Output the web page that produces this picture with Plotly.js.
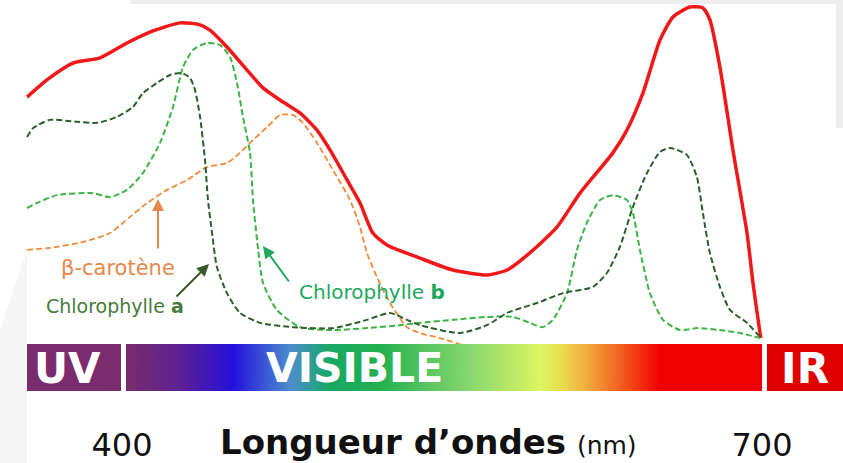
<!DOCTYPE html>
<html>
<head>
<meta charset="utf-8">
<script src="https://cdn.plot.ly/plotly-3.0.1.min.js"></script>
<style>html,body{margin:0;padding:0;background:#fff;}#chart{width:843px;height:463px;}</style>
</head>
<body>
<div id="chart"></div>
<script>
// ---- Data (wavelength in nm, relative absorbance) ----
const seriesNames = ['Spectre d\u2019action', 'Chlorophylle a', 'Chlorophylle b', '\u03b2-carot\u00e8ne'];

const nmAction = [355.5,364.8,377,389.7,402.3,413.1,427.2,436.6,441.2,449.2,458.6,466.1,475.5,483.4,491.4,497.5,505.5,511.6,517.6,524.2,539.7,555.1,571.1,580.5,591.2,603.9,614.7,630.1,636.7,644.2,652.2,658.3,666.2,672.3,675.6,680.3,686.4,693,695.8,699.1,699.5];
const absAction = [0.736,0.788,0.839,0.855,0.9,0.933,0.961,0.955,0.939,0.888,0.818,0.764,0.721,0.688,0.636,0.576,0.485,0.415,0.324,0.288,0.248,0.212,0.197,0.212,0.264,0.342,0.445,0.567,0.636,0.748,0.909,0.979,1.009,1.006,0.97,0.827,0.576,0.324,0.173,0.021,0.006];

const nmChlA = [355.5,358.3,366.2,378.9,388.3,397.6,405.1,409.8,416.4,422.5,428.1,431.9,434.2,436.6,438.9,440.3,442.2,444.5,449.2,455.3,464.7,480.1,498.9,514.8,525.6,533.6,539.7,558.4,571.1,580.5,594.5,606.7,620.8,627.3,633.4,639.5,646.1,652.2,656.9,664.8,669.5,672.3,675.6,680.3,685,693,699.1];
const absChlA = [0.615,0.642,0.667,0.661,0.658,0.676,0.706,0.748,0.779,0.803,0.809,0.794,0.758,0.676,0.545,0.424,0.324,0.221,0.142,0.082,0.052,0.039,0.036,0.061,0.082,0.061,0.045,0.021,0.045,0.082,0.112,0.142,0.161,0.203,0.282,0.403,0.506,0.570,0.582,0.561,0.494,0.385,0.264,0.161,0.091,0.052,0.009];

const nmChlB = [355.5,360.1,369.5,386.4,394.4,402.3,409.8,417.8,423.9,428.6,433.3,439.8,445.9,450.6,453.9,456.7,460,461.4,463.3,466.1,472.6,483.4,498.9,514.8,530.3,539.7,555.1,571.1,583.3,591.2,597.3,602,608.6,613.3,617.9,624.1,630.1,636.7,639.5,642.8,647.5,653.6,661.6,669.5,680.3,689.7,699.1];
const absChlB = [0.4,0.415,0.439,0.445,0.433,0.455,0.506,0.597,0.706,0.827,0.879,0.9,0.894,0.858,0.779,0.676,0.567,0.424,0.303,0.173,0.091,0.039,0.03,0.036,0.045,0.052,0.061,0.07,0.07,0.052,0.039,0.061,0.142,0.273,0.355,0.424,0.439,0.424,0.385,0.273,0.142,0.061,0.03,0.036,0.03,0.021,0.006];

const nmCarot = [355.5,366.2,381.7,394.4,403.7,411.7,421.1,430.5,439.8,449.2,455.3,461.4,468,474.1,480.1,484.8,491.4,498.9,506.9,511.6,514.8,519.5,525.6,533.6,539.7,549,559.4];
const absCarot = [0.273,0.279,0.297,0.324,0.373,0.415,0.455,0.485,0.524,0.536,0.567,0.606,0.645,0.682,0.682,0.658,0.597,0.515,0.424,0.342,0.264,0.191,0.112,0.039,0.021,0.006,-0.015];

const tickValues = [400, 700];
const tickLabels = ['400', '700'];
const bandLabels = ['UV', 'VISIBLE', 'IR'];

// ---- Layout helpers (pixel -> paper) ----
const W = 843, PH = 423;
const X = px => px / W;
const Y = py => (PH - py) / PH;

// spectrum gradient image
function spectrumImage() {
  const c = document.createElement('canvas');
  c.width = 636; c.height = 4;
  const g = c.getContext('2d');
  const grad = g.createLinearGradient(0, 0, 636, 0);
  const stops = [[126,'#7a2c6a'],[180,'#5c2192'],[233,'#2410dc'],[290,'#4c8ed0'],[330,'#18a864'],[380,'#24b050'],[470,'#88d870'],[540,'#dcf560'],[560,'#e8e050'],[585,'#f2b040'],[620,'#f26020'],[660,'#f20000'],[762,'#f00000']];
  stops.forEach(s => grad.addColorStop((s[0]-126)/636, s[1]));
  g.fillStyle = grad; g.fillRect(0, 0, 636, 4);
  return c.toDataURL();
}

const dash = '6px,3px';
const traces = [
  {x: nmAction, y: absAction, name: seriesNames[0], mode: 'lines', line: {color: '#f01818', width: 3.5, shape: 'spline', smoothing: 0.6}},
  {x: nmCarot, y: absCarot, name: seriesNames[3], mode: 'lines', line: {color: '#f08a3c', width: 1.8, dash: dash, shape: 'spline', smoothing: 0.6}},
  {x: nmChlB, y: absChlB, name: seriesNames[2], mode: 'lines', line: {color: '#3cb443', width: 2, dash: dash, shape: 'spline', smoothing: 0.6}},
  {x: nmChlA, y: absChlA, name: seriesNames[1], mode: 'lines', line: {color: '#2c5e2e', width: 2, dash: dash, shape: 'spline', smoothing: 0.6}}
];

const font = 'DejaVu Sans, sans-serif';
function label(text, px, py, size, color) {
  return {text: text, xref: 'paper', yref: 'paper', x: X(px), y: Y(py), xanchor: 'center', yanchor: 'middle',
          showarrow: false, font: {family: font, size: size, color: color}};
}
function arrow(hx, hy, tx, ty, color) {
  return {text: '', xref: 'paper', yref: 'paper', x: X(hx), y: Y(hy), ax: tx - hx, ay: ty - hy,
          showarrow: true, arrowhead: 2, arrowsize: 1.2, arrowwidth: 2, arrowcolor: color};
}

const layout = {
  width: 843, height: 463,
  margin: {l: 0, r: 0, t: 0, b: 40, pad: 0},
  paper_bgcolor: '#ffffff', plot_bgcolor: 'rgba(0,0,0,0)',
  showlegend: false,
  xaxis: {range: [342.8, 738.0], showgrid: false, zeroline: false, showline: false, ticks: '', automargin: false,
          tickvals: tickValues, ticktext: tickLabels, tickfont: {family: font, size: 32, color: '#111'}, fixedrange: true},
  yaxis: {range: [(340 - PH) / 330, 340 / 330], visible: false, automargin: false, fixedrange: true},
  shapes: [
    {type: 'rect', xref: 'paper', yref: 'paper', x0: X(130), x1: X(843), y0: Y(0), y1: Y(4), fillcolor: '#ededed', line: {width: 0}, layer: 'below'},
    {type: 'rect', xref: 'paper', yref: 'paper', x0: X(836), x1: X(843), y0: Y(0), y1: Y(128), fillcolor: '#ededed', line: {width: 0}, layer: 'below'},
    {type: 'path', xref: 'paper', yref: 'paper', path: `M 0 ${Y(330)} L ${X(27)} ${Y(250)} L ${X(27)} ${Y(463)} L 0 ${Y(463)} Z`, fillcolor: '#f5f5f5', line: {width: 0}, layer: 'below'},
    {type: 'rect', xref: 'paper', yref: 'paper', x0: X(27), x1: X(121), y0: Y(391), y1: Y(344), fillcolor: '#7b2c6c', line: {width: 0}, layer: 'above'},
    {type: 'rect', xref: 'paper', yref: 'paper', x0: X(767), x1: X(843), y0: Y(391), y1: Y(344), fillcolor: '#e00000', line: {width: 0}, layer: 'above'}
  ],
  images: [
    {source: spectrumImage(), xref: 'paper', yref: 'paper', x: X(126), y: Y(344), sizex: (762-126)/W, sizey: (391-344)/PH, sizing: 'stretch', xanchor: 'left', yanchor: 'top', layer: 'above'}
  ],
  annotations: [
    label('<b>' + bandLabels[0] + '</b>', 67, 368, 42, '#ffffff'),
    label('<b>' + bandLabels[1] + '</b>', 354, 368, 41, '#ffffff'),
    label('<b>' + bandLabels[2] + '</b>', 805, 368, 42, '#ffffff'),
    label('<b>Longueur d\u2019ondes</b> <span style="font-size:25px">(nm)</span>', 428, 442, 34, '#111111'),
    label('\u03b2-carot\u00e8ne', 118, 268, 21, '#e8874a'),
    label('Chlorophylle <b>a</b>', 115, 306, 19, '#4a7a3a'),
    label('Chlorophylle <b>b</b>', 372, 292, 20, '#20a860'),
    arrow(158, 199, 158, 250, '#e8874a'),
    arrow(209, 264, 175, 298, '#3a5a2a'),
    arrow(263, 246, 290, 283, '#20a860')
  ]
};

Plotly.newPlot('chart', traces, layout, {displayModeBar: false, staticPlot: true});
</script>
</body>
</html>
